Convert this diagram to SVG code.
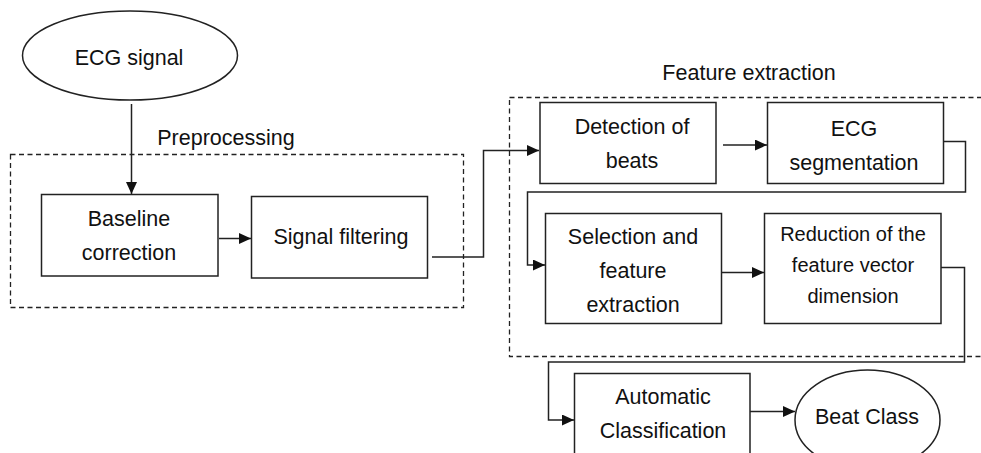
<svg xmlns="http://www.w3.org/2000/svg" width="981" height="453" viewBox="0 0 981 453">
<style>
.box{fill:#fff;stroke:#222;stroke-width:1.5}
.grp{fill:none;stroke:#222;stroke-width:1.3;stroke-dasharray:5,3.5}
.c{fill:none;stroke:#222;stroke-width:1.5}
text{font-family:"Liberation Sans",Arial,sans-serif;font-size:21.5px;fill:#111;text-anchor:middle}
.sm{font-size:20px}
</style>
<defs>
<marker id="ah" viewBox="0 0 12 11" refX="12" refY="5.5" markerWidth="12" markerHeight="11" markerUnits="userSpaceOnUse" orient="auto">
<path d="M0,0 L12,5.5 L0,11 z" fill="#111"/>
</marker>
</defs>
<rect width="981" height="453" fill="#fff"/>
<g id="groups">
<rect id="preprocessing" class="grp" x="10.5" y="154.5" width="453" height="153"/>
<text x="226" y="145">Preprocessing</text>
<rect id="feature-extraction" class="grp" x="509.5" y="97.5" width="480" height="259"/>
<text x="749" y="80">Feature extraction</text>
</g>
<g id="connectors">
<path class="c" d="M131.5,104 V194" marker-end="url(#ah)"/>
<path class="c" d="M219,238.5 H251" marker-end="url(#ah)"/>
<path class="c" d="M432,257 H483.5 V150.5 H539" marker-end="url(#ah)"/>
<path class="c" d="M723,145 H767" marker-end="url(#ah)"/>
<path class="c" d="M944,141.5 H965.5 V192 H527.5 V265 H545" marker-end="url(#ah)"/>
<path class="c" d="M722,272.5 H764" marker-end="url(#ah)"/>
<path class="c" d="M941,267.5 H964.5 V362 H548.5 V420 H574" marker-end="url(#ah)"/>
<path class="c" d="M749,411.5 H795" marker-end="url(#ah)"/>
</g>
<g id="ecg-signal">
<ellipse class="box" cx="130" cy="55.5" rx="107.5" ry="44.5"/>
<text x="129" y="65">ECG signal</text>
</g>
<g id="baseline-correction">
<rect class="box" x="41.5" y="194.5" width="176.5" height="81.5"/>
<text x="129" y="226">Baseline</text>
<text x="129" y="260">correction</text>
</g>
<g id="signal-filtering">
<rect class="box" x="251.5" y="196.5" width="176" height="81.5"/>
<text x="341" y="244">Signal filtering</text>
</g>
<g id="detection-of-beats">
<rect class="box" x="540" y="102.5" width="176" height="81"/>
<text x="632" y="134">Detection of</text>
<text x="632" y="168">beats</text>
</g>
<g id="ecg-segmentation">
<rect class="box" x="767.5" y="102.5" width="176" height="81"/>
<text x="854" y="136">ECG</text>
<text x="854" y="170">segmentation</text>
</g>
<g id="selection-feature-extraction">
<rect class="box" x="545.5" y="213.5" width="176" height="110"/>
<text x="633" y="244">Selection and</text>
<text x="633" y="278">feature</text>
<text x="633" y="312">extraction</text>
</g>
<g id="reduction">
<rect class="box" x="764.5" y="213.5" width="176.5" height="110"/>
<text class="sm" x="853" y="241">Reduction of the</text>
<text class="sm" x="853" y="272">feature vector</text>
<text class="sm" x="853" y="303">dimension</text>
</g>
<g id="automatic-classification">
<rect class="box" x="574.5" y="373.5" width="175.5" height="100"/>
<text x="663" y="404">Automatic</text>
<text x="663" y="438">Classification</text>
</g>
<g id="beat-class">
<ellipse class="box" cx="867.5" cy="420" rx="72.5" ry="50"/>
<text x="867" y="424">Beat Class</text>
</g>
</svg>
